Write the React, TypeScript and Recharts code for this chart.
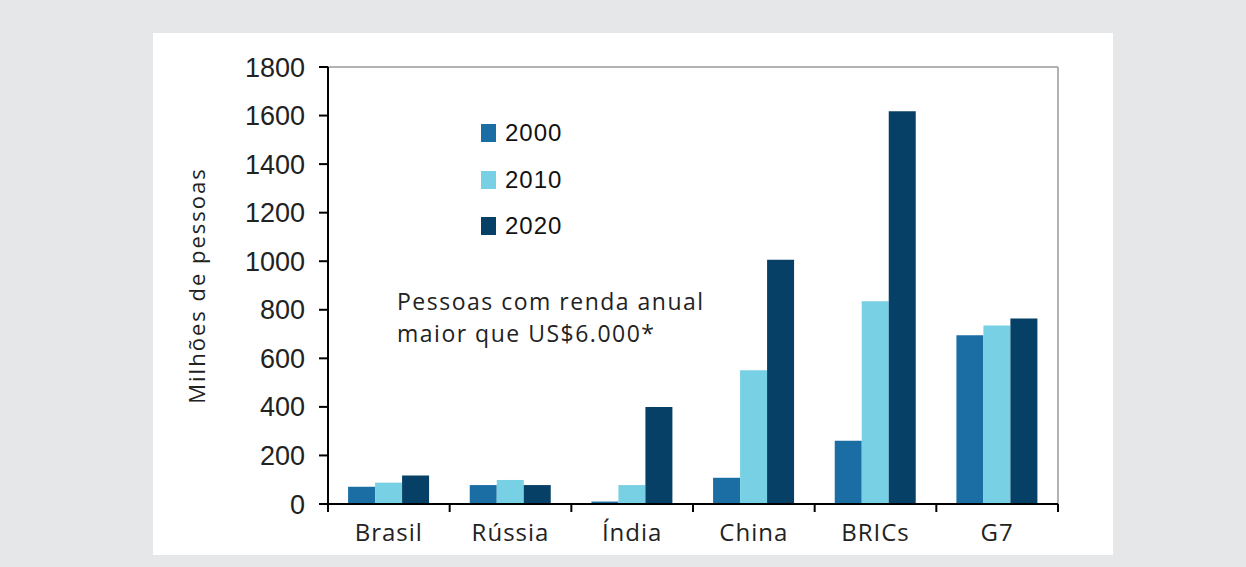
import { BarChart, Bar, XAxis, YAxis, Legend, CartesianGrid } from "recharts";

// ── Data ────────────────────────────────────────────────────────────────
const countries = ["Brasil", "Rússia", "Índia", "China", "BRICs", "G7"];
const years = ["2000", "2010", "2020"];
const values2000 = [71, 78, 10, 108, 261, 695];
const values2010 = [88, 99, 78, 551, 835, 735];
const values2020 = [117, 78, 400, 1006, 1618, 764];
const yTicks = [0, 200, 400, 600, 800, 1000, 1200, 1400, 1600, 1800];

const colors = ["#1a6ea3", "#78d0e4", "#064066"];

const data = countries.map((name, i) => ({
  name,
  "2000": values2000[i],
  "2010": values2010[i],
  "2020": values2020[i],
}));

const labelFont = "'Open Sans', 'Noto Sans', sans-serif";
const numFont = "'Liberation Sans', Arial, sans-serif";

// ── Category tick: label in the middle, tick marks on the band edges ──────
function CategoryTick(props: any) {
  const { x, y, payload, index } = props;
  const half = payload?.offset ?? 0;
  const axisY = y - 14;
  return (
    <g>
      <line x1={x - half} x2={x - half} y1={axisY} y2={axisY + 8} stroke="#000" strokeWidth={2} />
      {index === countries.length - 1 && (
        <line x1={x + half} x2={x + half} y1={axisY} y2={axisY + 8} stroke="#000" strokeWidth={2} />
      )}
      <text
        x={x}
        y={y}
        dy="0.95em"
        textAnchor="middle"
        fill="#222"
        fontFamily={labelFont}
        fontSize={24}
        letterSpacing={1}
      >
        {payload.value}
      </text>
    </g>
  );
}

function LegendBox() {
  return (
    <div>
      {years.map((yr, i) => (
        <div
          key={yr}
          style={{ display: "flex", alignItems: "center", height: 46.5 }}
        >
          <span
            style={{
              display: "inline-block",
              width: 15,
              height: 18,
              background: colors[i],
              marginRight: 9,
            }}
          />
          <span style={{ fontFamily: numFont, fontSize: 24, color: "#111", letterSpacing: 1 }}>
            {yr}
          </span>
        </div>
      ))}
    </div>
  );
}

export default function App() {
  return (
    <div
      style={{
        position: "absolute",
        left: 0,
        top: 0,
        width: 1246,
        height: 567,
        background: "#e6e7e9",
      }}
    >
      <div
        style={{
          position: "absolute",
          left: 153,
          top: 33,
          width: 960,
          height: 522,
          background: "#fff",
        }}
      >
        <BarChart
          width={960}
          height={522}
          data={data}
          margin={{ top: 34, right: 55, bottom: 0, left: 0 }}
          barCategoryGap="16.5%"
          barGap={0}
        >
          {/* thin grey frame on the top and right of the plot */}
          <CartesianGrid
            stroke="#9a9a9a"
            strokeWidth={1.5}
            horizontalCoordinatesGenerator={({ offset }: any) => [offset.top]}
            verticalCoordinatesGenerator={({ offset }: any) => [offset.left + offset.width]}
          />
          <XAxis
            dataKey="name"
            height={51}
            tickLine={false}
            tickSize={8}
            tickMargin={6}
            interval={0}
            axisLine={{ stroke: "#000", strokeWidth: 2 }}
            tick={<CategoryTick />}
          />
          <YAxis
            width={175}
            domain={[0, 1800]}
            ticks={yTicks}
            interval={0}
            tickSize={9}
            tickMargin={14}
            axisLine={{ stroke: "#000", strokeWidth: 2 }}
            tickLine={{ stroke: "#000", strokeWidth: 2 }}
            tick={{ fill: "#222", fontSize: 27, fontFamily: numFont }}
            label={{
              value: "Milhões de pessoas",
              angle: -90,
              position: "insideLeft",
              offset: 44,
              style: {
                textAnchor: "middle",
                fill: "#222",
                fontSize: 22,
                fontFamily: labelFont,
                letterSpacing: 2,
              },
            }}
          />
          <Legend
            layout="vertical"
            verticalAlign="middle"
            align="center"
            content={<LegendBox />}
            wrapperStyle={{ position: "absolute", left: 328, top: 77, width: "auto" }}
          />
          {years.map((yr, i) => (
            <Bar key={yr} dataKey={yr} fill={colors[i]} isAnimationActive={false} />
          ))}
        </BarChart>
        <div
          style={{
            position: "absolute",
            left: 244,
            top: 252,
            fontFamily: labelFont,
            fontSize: 23,
            lineHeight: "32px",
            letterSpacing: 1.5,
            color: "#222",
          }}
        >
          Pessoas com renda anual
          <br />
          maior que US$6.000*
        </div>
      </div>
    </div>
  );
}
